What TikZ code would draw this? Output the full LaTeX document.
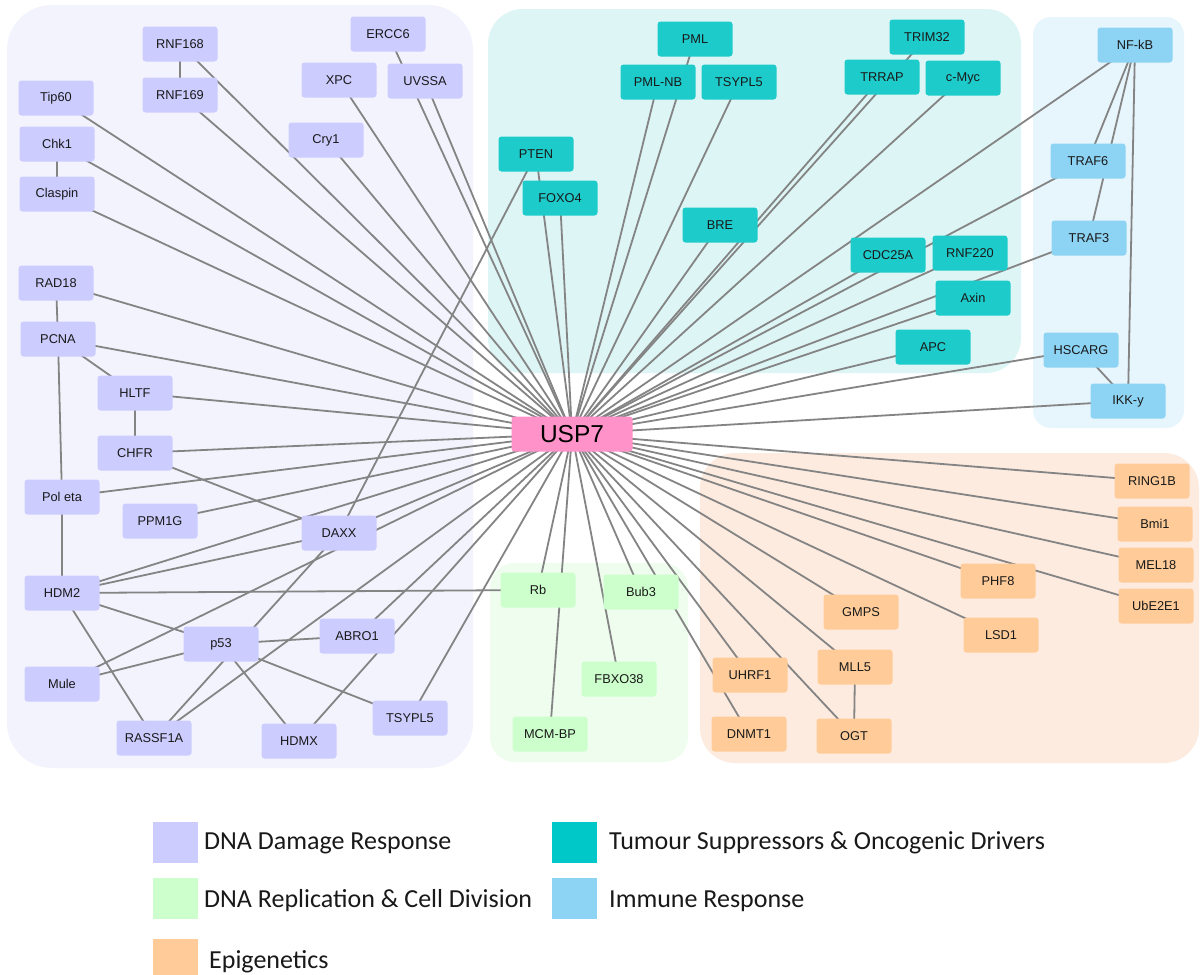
\documentclass[tikz,border=0pt]{standalone}
\usepackage{fontspec}
\setmainfont{Liberation Sans}
\newfontfamily\legendfont{Carlito}
\definecolor{lavNode}{HTML}{CCCCFF}
\definecolor{lavBg}{HTML}{F3F3FE}
\definecolor{tealNode}{HTML}{1ECBCB}
\definecolor{tealBg}{HTML}{DDF5F5}
\definecolor{blueNode}{HTML}{8DD3F3}
\definecolor{blueBg}{HTML}{E7F5FD}
\definecolor{greenNode}{HTML}{CCFFCC}
\definecolor{greenBg}{HTML}{EEFDEE}
\definecolor{peachNode}{HTML}{FFCC99}
\definecolor{peachBg}{HTML}{FDEBDF}
\definecolor{pinkNode}{HTML}{FF92C8}
\definecolor{edgeGray}{HTML}{848484}
\definecolor{legTeal}{HTML}{00C8C8}
\pgfdeclarelayer{groups}
\pgfdeclarelayer{edges}
\pgfsetlayers{groups,edges,main}
\begin{document}
\begin{tikzpicture}[x=1pt,y=-1pt,
  nd/.style={rounded corners=3pt, minimum width=75pt, minimum height=35pt, inner sep=0pt,
    font=\fontsize{12.8}{14}\selectfont, text=black!90},
  lav/.style={nd, fill=lavNode},
  teal/.style={nd, fill=tealNode},
  blu/.style={nd, fill=blueNode},
  grn/.style={nd, fill=greenNode},
  pch/.style={nd, fill=peachNode},
  hub/.style={rounded corners=3pt, minimum width=121pt, minimum height=35pt, inner sep=0pt,
    fill=pinkNode, font=\fontsize{24.5}{28}\selectfont},
  edge/.style={draw=edgeGray, line width=1.8pt},
  swatch/.style={minimum width=45pt, minimum height=41pt, inner sep=0pt},
  legtext/.style={anchor=base west, inner sep=0pt, font=\legendfont\fontsize{26}{30}\selectfont, text=black!90}]
\useasboundingbox (0,0) rectangle (1200,975);

% group backgrounds
\begin{pgfonlayer}{groups}
\fill[white] (0,0) rectangle (1200,975);
\fill[lavBg, rounded corners=45pt] (7,5) rectangle (473,768);
\fill[tealBg, rounded corners=35pt] (488,9) rectangle (1021,373);
\fill[blueBg, rounded corners=18pt] (1033,17) rectangle (1184,428);
\fill[greenBg, rounded corners=25pt] (490,563) rectangle (688,762);
\fill[peachBg, rounded corners=35pt] (700,453) rectangle (1199,763);
\end{pgfonlayer}

% hub
\node[hub] (USP7) at (572,434) {USP7};

% DNA damage response
\node[lav] (RNF168) at (180,44) {RNF168};
\node[lav] (RNF169) at (180,95) {RNF169};
\node[lav] (ERCC6) at (388,34) {ERCC6};
\node[lav] (XPC) at (339,80) {XPC};
\node[lav] (UVSSA) at (425,81) {UVSSA};
\node[lav] (Tip60) at (56,98) {Tip60};
\node[lav] (Chk1) at (57,144) {Chk1};
\node[lav] (Claspin) at (57,194) {Claspin};
\node[lav] (Cry1) at (326,140) {Cry1};
\node[lav] (RAD18) at (56,283) {RAD18};
\node[lav] (PCNA) at (58,339) {PCNA};
\node[lav] (HLTF) at (135,393) {HLTF};
\node[lav] (CHFR) at (135,453) {CHFR};
\node[lav] (PolEta) at (62,497) {Pol eta};
\node[lav] (PPM1G) at (160,521) {PPM1G};
\node[lav] (DAXX) at (339,533) {DAXX};
\node[lav] (HDM2) at (62,593) {HDM2};
\node[lav] (p53) at (221,644) {p53};
\node[lav] (ABRO1) at (357,636) {ABRO1};
\node[lav] (Mule) at (62,684) {Mule};
\node[lav] (RASSF1A) at (154,738) {RASSF1A};
\node[lav] (HDMX) at (299,741) {HDMX};
\node[lav] (TSYPLa) at (410,718) {TSYPL5};

% tumour suppressors
\node[teal] (PML) at (695,39) {PML};
\node[teal] (PMLNB) at (658,82) {PML-NB};
\node[teal] (TSYPLb) at (739,82) {TSYPL5};
\node[teal] (TRIM32) at (927,37) {TRIM32};
\node[teal] (TRRAP) at (882,77) {TRRAP};
\node[teal] (cMyc) at (963,78) {c-Myc};
\node[teal] (PTEN) at (536,154) {PTEN};
\node[teal] (FOXO4) at (560,198) {FOXO4};
\node[teal] (BRE) at (720,225) {BRE};
\node[teal] (CDC25A) at (888,255) {CDC25A};
\node[teal] (RNF220) at (970,253) {RNF220};
\node[teal] (Axin) at (973,298) {Axin};
\node[teal] (APC) at (933,347) {APC};

% immune
\node[blu] (NFkB) at (1135,45) {NF-kB};
\node[blu] (TRAF6) at (1088,161) {TRAF6};
\node[blu] (TRAF3) at (1089,238) {TRAF3};
\node[blu] (HSCARG) at (1081,350) {HSCARG};
\node[blu] (IKKy) at (1128,401) {IKK-y};

% replication
\node[grn] (Rb) at (538,590) {Rb};
\node[grn] (Bub3) at (641,592) {Bub3};
\node[grn] (FBXO38) at (619,679) {FBXO38};
\node[grn] (MCMBP) at (550,734) {MCM-BP};

% epigenetics
\node[pch] (RING1B) at (1152,481) {RING1B};
\node[pch] (Bmi1) at (1155,524) {Bmi1};
\node[pch] (MEL18) at (1156,565) {MEL18};
\node[pch] (UbE2E1) at (1156,606) {UbE2E1};
\node[pch] (PHF8) at (998,581) {PHF8};
\node[pch] (LSD1) at (1001,635) {LSD1};
\node[pch] (GMPS) at (861,612) {GMPS};
\node[pch] (MLL5) at (855,667) {MLL5};
\node[pch] (UHRF1) at (750,675) {UHRF1};
\node[pch] (DNMT1) at (749,734) {DNMT1};
\node[pch] (OGT) at (854,736) {OGT};

% edges
\begin{pgfonlayer}{edges}
\foreach \n in {RNF168,RNF169,ERCC6,XPC,UVSSA,Tip60,Chk1,Claspin,Cry1,RAD18,PCNA,HLTF,CHFR,PolEta,PPM1G,DAXX,HDM2,Mule,RASSF1A,HDMX,ABRO1,TSYPLa,
  PML,PMLNB,TSYPLb,TRIM32,TRRAP,cMyc,PTEN,FOXO4,BRE,CDC25A,RNF220,Axin,APC,
  NFkB,TRAF6,TRAF3,HSCARG,IKKy,
  Rb,Bub3,FBXO38,MCMBP,
  RING1B,Bmi1,MEL18,UbE2E1,PHF8,LSD1,GMPS,MLL5,UHRF1,DNMT1,OGT}
  \draw[edge] (USP7.center) -- (\n.center);
\foreach \a/\b in {RNF168/RNF169,Chk1/Claspin,RAD18/PCNA,PCNA/PolEta,PCNA/HLTF,HLTF/CHFR,CHFR/DAXX,
  PolEta/HDM2,HDM2/DAXX,HDM2/Rb,HDM2/p53,HDM2/RASSF1A,Mule/p53,p53/ABRO1,p53/TSYPLa,p53/HDMX,
  RASSF1A/DAXX,DAXX/PTEN,NFkB/TRAF6,NFkB/TRAF3,NFkB/IKKy,HSCARG/IKKy,MLL5/OGT}
  \draw[edge] (\a.center) -- (\b.center);
\end{pgfonlayer}

% legend
\node[swatch, fill=lavNode] (sw1) at (175.5,842.5) {};
\node[legtext] (lt1) at (204,849) {DNA Damage Response};
\node[swatch, fill=legTeal] (sw2) at (574.5,842.5) {};
\node[legtext] (lt2) at (609,849) {Tumour Suppressors \& Oncogenic Drivers};
\node[swatch, fill=greenNode] (sw3) at (175.5,898) {};
\node[legtext] (lt3) at (204,907) {DNA Replication \& Cell Division};
\node[swatch, fill=blueNode] (sw4) at (574.5,898) {};
\node[legtext] (lt4) at (609,907) {Immune Response};
\fill[peachNode] (153,939) rectangle (198,975);
\node[legtext] (lt5) at (209,968) {Epigenetics};
\end{tikzpicture}
\end{document}
